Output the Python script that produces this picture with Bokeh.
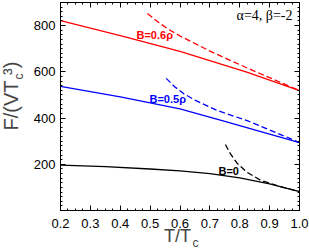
from bokeh.plotting import figure
from bokeh.models import (LinearAxis, Label, Range1d, FixedTicker, Title,
                          CustomJSTickFormatter, NumeralTickFormatter)
from bokeh.embed import file_html
from bokeh.resources import INLINE

# ---- data ----
t_red = [0.2, 0.4, 0.6, 0.826, 1.0]
f_red = [822, 757, 689, 598, 519]
t_red_d = [0.491, 0.53, 0.568, 0.602, 0.7, 0.826, 0.9, 1.0]
f_red_d = [852, 812, 779, 754, 690, 616, 575, 519]

t_blue = [0.2, 0.4, 0.6, 0.741, 1.0]
f_blue = [537, 492, 440, 389, 294]
t_blue_d = [0.554, 0.58, 0.613, 0.65, 0.724, 0.825, 0.892, 0.97, 1.0]
f_blue_d = [572, 538, 505, 478, 433, 389, 353, 311, 294]

t_black = [0.2, 0.35, 0.5, 0.6, 0.7, 0.8, 0.9, 1.0]
f_black = [197, 190, 180, 172, 160, 142, 116, 82]
t_black_d = [0.752, 0.769, 0.791, 0.825, 0.869, 0.925, 1.0]
f_black_d = [286, 245, 205, 165, 132, 108, 82]

x_ticks = [0.2, 0.3, 0.4, 0.5, 0.6, 0.7, 0.8, 0.9, 1.0]
y_ticks = [200, 400, 600, 800]

FONT = "Liberation Sans"

x_minor = [round(0.2 + 0.025 * i, 4) for i in range(33)]
y_minor = [20 * i for i in range(46)]

p = figure(frame_width=239, frame_height=208, x_range=Range1d(0.2, 1.0),
           y_range=Range1d(0.5, 900),
           output_backend="svg", toolbar_location=None,
           min_border_left=60, min_border_right=10, min_border_top=2, min_border_bottom=39)
p.grid.visible = False
p.outline_line_color = "black"
p.outline_line_width = 1
p.background_fill_color = "white"
p.border_fill_color = "white"


def style_axis(ax, labels=True):
    ax.axis_line_color = "black"
    ax.major_tick_in = 5
    ax.major_tick_out = 0
    ax.minor_tick_in = 2
    ax.minor_tick_out = 0
    ax.major_tick_line_color = "black"
    ax.minor_tick_line_color = "black"
    ax.major_label_text_font = FONT
    ax.major_label_text_color = "black"
    if labels:
        ax.major_label_text_font_size = "13px"
        ax.major_label_standoff = 4
    else:
        ax.major_label_text_font_size = "0px"
        ax.major_label_standoff = 0
        ax.formatter = CustomJSTickFormatter(code="return ''")


xa = p.xaxis[0]
ya = p.yaxis[0]
xa.ticker = FixedTicker(ticks=x_ticks, minor_ticks=x_minor)
ya.ticker = FixedTicker(ticks=y_ticks, minor_ticks=y_minor)
style_axis(xa)
style_axis(ya)
xa.formatter = NumeralTickFormatter(format="0.0")
xa.major_label_standoff = 8
ya.major_label_standoff = 5

# axis titles: main part + sub/superscripts
xa.axis_label = "T/T\u00a0"
xa.axis_label_text_font = FONT
xa.axis_label_text_font_size = "18px"
xa.axis_label_text_font_style = "normal"
xa.axis_label_standoff = -5

ya.axis_label = "\u00a0" * 18 + "c"
ya.axis_label_text_font = FONT
ya.axis_label_text_font_size = "12px"
ya.axis_label_text_font_style = "normal"
ya.axis_label_standoff = 5

top = LinearAxis(ticker=FixedTicker(ticks=x_ticks, minor_ticks=x_minor))
style_axis(top, labels=False)
right = LinearAxis(ticker=FixedTicker(ticks=y_ticks, minor_ticks=y_minor))
style_axis(right, labels=False)
p.add_layout(top, "above")
p.add_layout(right, "right")

p.add_layout(Title(text="F/(VT\u00a0\u00b3)", text_font=FONT, text_font_size="20px",
                   text_font_style="normal", align="left", offset=80,
                   vertical_align="bottom", standoff=-26), "left")
p.add_layout(Title(text="c", text_font=FONT, text_font_size="12px",
                   text_font_style="normal", align="left", offset=132,
                   vertical_align="top", standoff=-25), "below")

lw = 1.3
p.line(t_red, f_red, line_color="#ff0000", line_width=lw)
p.line(t_red_d, f_red_d, line_color="#ff0000", line_width=lw, line_dash="6 3")
p.line(t_blue, f_blue, line_color="#0000ff", line_width=lw)
p.line(t_blue_d, f_blue_d, line_color="#0000ff", line_width=lw, line_dash="6 3")
p.line(t_black, f_black, line_color="black", line_width=lw)
p.line(t_black_d, f_black_d, line_color="black", line_width=lw, line_dash="6 3")


# pixel -> data helpers for in-frame text placement
def tx(xi):
    return 0.2 + (xi - 60) / 298.75


def fy(yi):
    return (210 - yi) * 900 / 208


def lab(xi, yi, text, size, color="black", font=FONT, style="normal", align="left"):
    p.add_layout(Label(x=tx(xi), y=fy(yi), text=text, text_font=font, text_font_size=size,
                       text_color=color, text_font_style=style, text_align=align,
                       text_baseline="middle"))


lab(136, 34, "B=0.6ρ", "11px", color="#ff0000", style="bold")
lab(149, 98, "B=0.5ρ", "11px", color="#0000ff", style="bold")
lab(218, 170, "B=0", "11px", color="black", style="bold")
lab(292, 15, "α=4, β=-2", "14px", font="Liberation Serif", align="right")

open("out.html", "w").write(file_html(p, INLINE))
